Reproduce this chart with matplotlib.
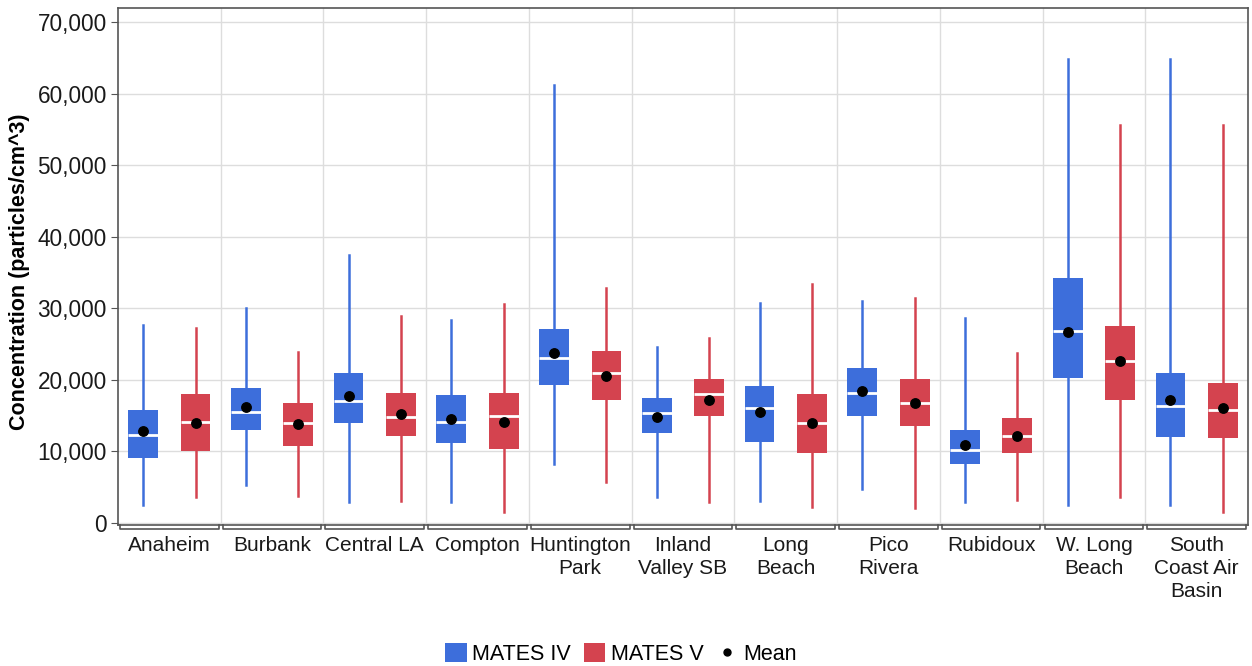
import numpy as np
import matplotlib.pyplot as plt
from matplotlib.patches import Patch
from matplotlib.lines import Line2D
from matplotlib.ticker import FuncFormatter
import matplotlib.transforms as mtransforms

plt.rcParams['font.family'] = ['Liberation Sans', 'DejaVu Sans']

sites = ["Anaheim", "Burbank", "Central LA", "Compton", "Huntington\nPark",
         "Inland\nValley SB", "Long\nBeach", "Pico\nRivera", "Rubidoux",
         "W. Long\nBeach", "South\nCoast Air\nBasin"]

# MATES IV
iv_lo = [2500, 5300, 2900, 2900, 8300, 3600, 3000, 4700, 2900, 2500, 2500]
iv_q1 = [9100, 13000, 13900, 11100, 19300, 12500, 11300, 14900, 8300, 20200, 12000]
iv_med = [12300, 15500, 17100, 14100, 23100, 15400, 16000, 18200, 10200, 26800, 16300]
iv_q3 = [15800, 18800, 21000, 17900, 27100, 17400, 19100, 21700, 13000, 34200, 21000]
iv_hi = [27600, 30000, 37400, 28300, 61200, 24600, 30800, 31000, 28700, 64900, 64900]
iv_mean = [12900, 16200, 17700, 14500, 23700, 14800, 15500, 18400, 10950, 26700, 17200]

# MATES V
v_lo = [3600, 3700, 3000, 1550, 5700, 2900, 2200, 2100, 3200, 3600, 1550]
v_q1 = [10000, 10800, 12200, 10300, 17200, 14900, 9700, 13600, 9700, 17200, 11900]
v_med = [14100, 13900, 14800, 14900, 21000, 18000, 14000, 16800, 12200, 22700, 15800]
v_q3 = [18000, 16800, 18100, 18100, 24000, 20100, 18000, 20100, 14600, 27500, 19600]
v_hi = [27300, 23900, 28900, 30600, 32800, 25900, 33400, 31400, 23700, 55700, 55700]
v_mean = [13900, 13800, 15200, 14100, 20600, 17200, 14000, 16700, 12200, 22700, 16100]

blue = '#3d6edb'
red = '#d4434f'


def make_stats(lo, q1, med, q3, hi, mean):
    return [dict(whislo=a, q1=b, med=c, q3=d, whishi=e, mean=f, fliers=[])
            for a, b, c, d, e, f in zip(lo, q1, med, q3, hi, mean)]


fig = plt.figure(figsize=(12.52, 6.66), dpi=100)
ax = fig.add_axes([0.0942, 0.2117, 0.9026, 0.7763])

x = np.arange(len(sites))
off = 0.255
w = 0.29

for stats, pos, col in [(make_stats(iv_lo, iv_q1, iv_med, iv_q3, iv_hi, iv_mean), x - off, blue),
                        (make_stats(v_lo, v_q1, v_med, v_q3, v_hi, v_mean), x + off, red)]:
    ax.bxp(stats, positions=pos, widths=w, patch_artist=True, showcaps=False,
           showfliers=False, showmeans=True,
           boxprops=dict(facecolor=col, edgecolor='none', linewidth=0),
           whiskerprops=dict(color=col, linewidth=1.8),
           medianprops=dict(color='white', linewidth=2),
           meanprops=dict(marker='o', markerfacecolor='black', markeredgecolor='black',
                          markersize=6.8),
           zorder=3)

ax.set_xlim(-0.5, len(sites) - 0.5)
ax.set_ylim(-300, 72000)
ax.set_yticks(np.arange(0, 70001, 10000))
ax.yaxis.set_major_formatter(FuncFormatter(lambda v, p: f"{int(v):,}"))
ax.set_xticks(x)
ax.set_xticklabels(sites, fontsize=15, linespacing=1.25, color='#1a1a1a')
ax.tick_params(axis='x', length=0, pad=8)
ax.tick_params(axis='y', labelsize=16.3, length=5, color='#555555', labelcolor='#1a1a1a', pad=3)

# grid
for b in np.arange(0.5, len(sites) - 0.5):
    ax.axvline(b, color='#dddddd', linewidth=1, zorder=0)
for t in np.arange(0, 70001, 10000):
    ax.axhline(t, color='#dddddd', linewidth=1, zorder=0)

for s in ax.spines.values():
    s.set_color('#555555')
    s.set_linewidth(1.2)

# group brackets under the axis
trans = mtransforms.blended_transform_factory(ax.transData, ax.transAxes)
for i in range(len(sites)):
    a, b = i - 0.48, i + 0.48
    ax.plot([a, a, b, b], [0.0, -0.008, -0.008, 0.0], color='#555555',
            linewidth=1.2, transform=trans, clip_on=False)

ax.set_ylabel("Concentration (particles/cm^3)", fontsize=15.5, fontweight='bold')
ax.yaxis.set_label_coords(-0.078, 0.49)

handles = [Patch(facecolor=blue, edgecolor='none'),
           Patch(facecolor=red, edgecolor='none'),
           Line2D([], [], linestyle='none', marker='o', color='black', markersize=5)]
fig.legend(handles, ["MATES IV", "MATES V", "Mean"], loc='center',
           bbox_to_anchor=(0.496, 0.018), ncol=3, frameon=False, fontsize=15.5,
           handlelength=1.0, handleheight=1.0, handletextpad=0.25, columnspacing=0.6,
           borderaxespad=0)

fig.savefig("out.png", dpi=100)
